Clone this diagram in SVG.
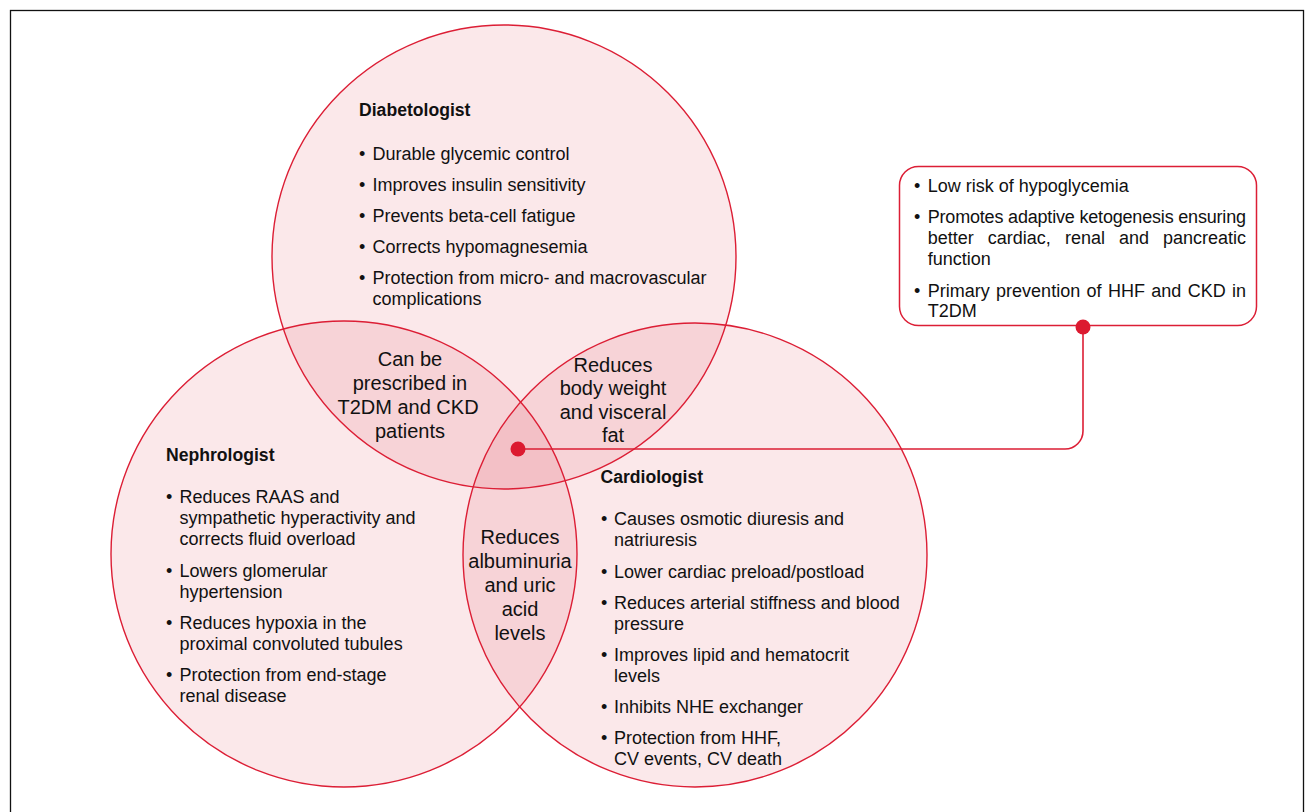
<svg xmlns="http://www.w3.org/2000/svg" width="1306" height="812" viewBox="0 0 1306 812">
<style>
  .txt { font-family: "Liberation Sans", Arial, sans-serif; font-size: 18px; fill: #111; }
  .head { font-family: "Liberation Sans", Arial, sans-serif; font-size: 17.6px; font-weight: bold; fill: #111; }
  .mid { font-family: "Liberation Sans", Arial, sans-serif; font-size: 20px; fill: #111; text-anchor: middle; }
  .fill { fill: #dc1e35; fill-opacity: 0.1; stroke: none; }
  .ring { fill: none; stroke: #dc1e35; stroke-width: 1.4; }
  .conn { fill: none; stroke: #dc1e35; stroke-width: 1.6; }
  .dot { fill: #dc1a30; }
</style>
<rect x="0" y="0" width="1306" height="812" fill="#ffffff"/>
<rect x="10.5" y="10.5" width="1293" height="820" fill="none" stroke="#111" stroke-width="1.3"/>

<g id="fills">
  <circle class="fill" cx="504" cy="257" r="232"/>
  <circle class="fill" cx="344" cy="554" r="233"/>
  <circle class="fill" cx="695" cy="555" r="232"/>
</g>
<g id="node-diabetologist">
  <circle class="ring" cx="504" cy="257" r="232"/>
  <text class="head" x="359" y="116">Diabetologist</text>
  <text class="txt" x="359" y="160">•<tspan x="372.5">Durable glycemic control</tspan></text>
  <text class="txt" x="359" y="191">•<tspan x="372.5">Improves insulin sensitivity</tspan></text>
  <text class="txt" x="359" y="222">•<tspan x="372.5">Prevents beta-cell fatigue</tspan></text>
  <text class="txt" x="359" y="253">•<tspan x="372.5">Corrects hypomagnesemia</tspan></text>
  <text class="txt" x="359" y="284">•<tspan x="372.5">Protection from micro- and macrovascular</tspan><tspan x="372.5" y="305">complications</tspan></text>
</g>
<g id="node-nephrologist">
  <circle class="ring" cx="344" cy="554" r="233"/>
  <text class="head" x="166" y="461">Nephrologist</text>
  <text class="txt" x="166" y="503">•<tspan x="179.5">Reduces RAAS and</tspan><tspan x="179.5" y="524">sympathetic hyperactivity and</tspan><tspan x="179.5" y="545">corrects fluid overload</tspan></text>
  <text class="txt" x="166" y="577">•<tspan x="179.5">Lowers glomerular</tspan><tspan x="179.5" y="598">hypertension</tspan></text>
  <text class="txt" x="166" y="629">•<tspan x="179.5">Reduces hypoxia in the</tspan><tspan x="179.5" y="650">proximal convoluted tubules</tspan></text>
  <text class="txt" x="166" y="681">•<tspan x="179.5">Protection from end-stage</tspan><tspan x="179.5" y="702">renal disease</tspan></text>
</g>
<g id="node-cardiologist">
  <circle class="ring" cx="695" cy="555" r="232"/>
  <text class="head" x="600.5" y="483">Cardiologist</text>
  <text class="txt" x="601" y="525">•<tspan x="614">Causes osmotic diuresis and</tspan><tspan x="614" y="546">natriuresis</tspan></text>
  <text class="txt" x="601" y="578">•<tspan x="614">Lower cardiac preload/postload</tspan></text>
  <text class="txt" x="601" y="609">•<tspan x="614">Reduces arterial stiffness and blood</tspan><tspan x="614" y="630">pressure</tspan></text>
  <text class="txt" x="601" y="661">•<tspan x="614">Improves lipid and hematocrit</tspan><tspan x="614" y="682">levels</tspan></text>
  <text class="txt" x="601" y="713">•<tspan x="614">Inhibits NHE exchanger</tspan></text>
  <text class="txt" x="601" y="744">•<tspan x="614">Protection from HHF,</tspan><tspan x="614" y="765">CV events, CV death</tspan></text>
</g>
<g id="node-overlap-dn">
  <text class="mid" x="410" y="366">Can be<tspan x="410" y="390">prescribed in</tspan><tspan x="408" y="414">T2DM and CKD</tspan><tspan x="410" y="438">patients</tspan></text>
</g>
<g id="node-overlap-dc">
  <text class="mid" x="613" y="372">Reduces<tspan x="613" y="395">body weight</tspan><tspan x="613" y="419">and visceral</tspan><tspan x="613" y="442">fat</tspan></text>
</g>
<g id="node-overlap-nc">
  <text class="mid" x="520" y="544">Reduces<tspan x="520" y="568">albuminuria</tspan><tspan x="520" y="592">and uric</tspan><tspan x="520" y="616">acid</tspan><tspan x="520" y="640">levels</tspan></text>
</g>
<g id="node-callout">
  <rect x="899.5" y="166.5" width="357" height="159" rx="19" ry="19" fill="#ffffff" stroke="#dc1e35" stroke-width="1.5"/>
  <text class="txt" x="914" y="192">•<tspan x="927.7">Low risk of hypoglycemia</tspan></text>
  <text class="txt" x="914" y="223">•</text>
  <text class="txt" x="927.7" y="223" textLength="318.3" lengthAdjust="spacing">Promotes adaptive ketogenesis ensuring</text>
  <text class="txt" x="927.7" y="243.5">better<tspan x="987.8">cardiac,</tspan><tspan x="1064.9">renal</tspan><tspan x="1118.9">and</tspan><tspan x="1163">pancreatic</tspan></text>
  <text class="txt" x="927.7" y="264.5">function</text>
  <text class="txt" x="914" y="297">•<tspan x="927.7">Primary</tspan><tspan x="996.1">prevention</tspan><tspan x="1086.5">of</tspan><tspan x="1107.9">HHF</tspan><tspan x="1151.3">and</tspan><tspan x="1187.7">CKD</tspan><tspan x="1232.1">in</tspan></text>
  <text class="txt" x="927.7" y="317">T2DM</text>
</g>
<g id="connectors">
  <path class="conn" d="M518,449 H1065 A18,18 0 0 0 1083,431 V327"/>
  <circle class="dot" cx="518" cy="449" r="7.5"/>
  <circle class="dot" cx="1083" cy="327" r="7.5"/>
</g>
</svg>
